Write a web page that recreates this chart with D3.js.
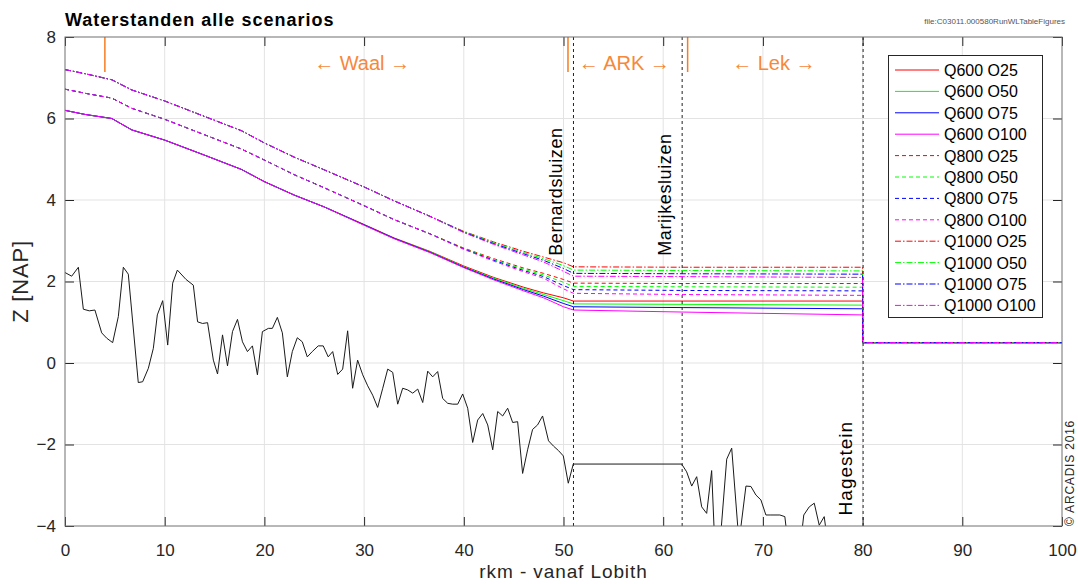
<!DOCTYPE html>
<html><head><meta charset="utf-8">
<script src="https://cdn.jsdelivr.net/npm/d3@7"></script>
<style>
body{margin:0;background:#fff;}
svg{display:block;font-family:"Liberation Sans",Arial,sans-serif;}
</style></head>
<body><svg id="c" width="1078" height="584"></svg>
<script>
// ---------- data ----------
const xTicks = [0,10,20,30,40,50,60,70,80,90,100];
const yTicks = [-4,-2,0,2,4,6,8];
const seriesNames = ["Q600 O25","Q600 O50","Q600 O75","Q600 O100","Q800 O25","Q800 O50","Q800 O75","Q800 O100","Q1000 O25","Q1000 O50","Q1000 O75","Q1000 O100"];
const seriesColors = ["#ff0000","#00ff00","#0000ff","#ff00ff","#ff0000","#00ff00","#0000ff","#ff00ff","#ff0000","#00ff00","#0000ff","#ff00ff"];
const kmWL = [0,2,4.7,6.7,10,14,17.7,20,23,26,30,33,36.6,40,43,46,48,50,51,62,80,80,100];
const q600o25  = [6.2,6.1,6.0,5.72,5.47,5.1,4.75,4.45,4.12,3.83,3.40,3.07,2.74,2.38,2.10,1.86,1.72,1.60,1.52,1.52,1.52,0.5,0.5];
const q600o50  = [6.2,6.1,6.0,5.72,5.47,5.1,4.75,4.45,4.12,3.83,3.39,3.06,2.73,2.36,2.08,1.83,1.68,1.53,1.45,1.44,1.42,0.5,0.5];
const q600o75  = [6.2,6.1,6.0,5.72,5.47,5.1,4.75,4.45,4.12,3.83,3.39,3.06,2.72,2.35,2.06,1.80,1.64,1.46,1.38,1.36,1.33,0.5,0.5];
const q600o100 = [6.2,6.1,6.0,5.72,5.47,5.1,4.75,4.45,4.12,3.83,3.38,3.05,2.71,2.34,2.04,1.77,1.60,1.38,1.30,1.25,1.18,0.5,0.5];
const q800o25  = [6.72,6.62,6.5,6.25,5.98,5.6,5.25,4.98,4.62,4.30,3.86,3.52,3.17,2.82,2.56,2.33,2.20,2.05,1.96,1.95,1.95,0.5,0.5];
const q800o50  = [6.72,6.62,6.5,6.25,5.98,5.6,5.25,4.98,4.62,4.30,3.86,3.52,3.17,2.81,2.54,2.30,2.16,1.98,1.88,1.87,1.86,0.5,0.5];
const q800o75  = [6.72,6.62,6.5,6.25,5.98,5.6,5.25,4.98,4.62,4.30,3.86,3.52,3.17,2.80,2.52,2.27,2.12,1.90,1.80,1.78,1.77,0.5,0.5];
const q800o100 = [6.72,6.62,6.5,6.25,5.98,5.6,5.25,4.98,4.62,4.30,3.86,3.52,3.17,2.79,2.50,2.24,2.08,1.82,1.71,1.68,1.66,0.5,0.5];
const q1000o25 = [7.2,7.1,6.95,6.7,6.43,6.05,5.7,5.4,5.05,4.74,4.32,3.98,3.60,3.23,2.97,2.74,2.60,2.46,2.36,2.35,2.35,0.5,0.5];
const q1000o50 = [7.2,7.1,6.95,6.7,6.43,6.05,5.7,5.4,5.05,4.74,4.32,3.98,3.60,3.22,2.95,2.71,2.56,2.39,2.28,2.27,2.26,0.5,0.5];
const q1000o75 = [7.2,7.1,6.95,6.7,6.43,6.05,5.7,5.4,5.05,4.74,4.32,3.98,3.60,3.21,2.93,2.68,2.52,2.32,2.20,2.19,2.18,0.5,0.5];
const q1000o100= [7.2,7.1,6.95,6.7,6.43,6.05,5.7,5.4,5.05,4.74,4.32,3.98,3.60,3.20,2.91,2.65,2.48,2.25,2.13,2.12,2.10,0.5,0.5];
const seriesValues = [q600o25,q600o50,q600o75,q600o100,q800o25,q800o50,q800o75,q800o100,q1000o25,q1000o50,q1000o75,q1000o100];
const kmBed = [0,0.67,1.34,1.84,2.44,3.0,3.68,4.18,4.78,5.35,5.85,6.35,7.35,7.79,8.36,8.86,9.26,9.8,10.3,10.8,11.27,12.14,12.87,13.3,13.8,14.3,14.88,15.3,15.8,16.3,16.8,17.3,17.8,18.3,18.8,19.3,19.8,20.4,20.8,21.3,21.8,22.3,22.8,23.3,23.8,24.3,24.8,25.4,25.9,26.4,26.85,27.35,27.85,28.35,28.85,29.35,29.86,30.36,30.86,31.36,31.87,32.37,32.87,33.37,33.87,34.37,34.88,35.38,35.88,36.38,36.88,37.38,37.88,38.39,38.89,39.39,39.89,40.39,40.89,41.39,41.9,42.4,42.9,43.4,43.9,44.4,44.9,45.4,45.9,46.4,46.9,47.4,47.9,48.5,49.0,49.5,49.98,50.48,50.98,61.85,62.35,62.86,63.36,63.86,64.36,64.86,65.35,66.37,66.87,67.6,68.3,68.8,69.3,69.8,70.3,70.8,71.7,72.2,72.6,73.7,74.1,74.65,75.15,75.65,76.15,76.6];
const zBed  = [2.22,2.13,2.35,1.32,1.28,1.30,0.74,0.61,0.50,1.14,2.35,2.18,-0.48,-0.46,-0.13,0.36,1.18,1.53,0.44,1.96,2.28,2.05,1.91,1.01,0.97,0.99,0.07,-0.27,0.69,-0.07,0.77,1.07,0.52,0.28,0.42,-0.29,0.77,0.85,0.85,1.12,0.74,-0.34,0.28,0.62,0.52,0.15,0.28,0.42,0.42,0.15,0.28,-0.28,-0.15,0.79,-0.62,0.07,-0.29,-0.56,-0.79,-1.09,-0.62,-0.15,-0.23,-1.01,-0.62,-0.66,-0.74,-0.64,-0.97,-0.20,-0.34,-0.21,-0.87,-0.99,-1.01,-1.01,-0.76,-1.11,-1.95,-1.40,-1.24,-1.52,-2.13,-1.19,-1.30,-1.11,-1.46,-1.44,-2.71,-2.13,-1.63,-1.52,-1.30,-1.91,-2.04,-2.15,-2.28,-2.95,-2.48,-2.48,-2.67,-3.02,-2.79,-3.53,-3.69,-2.64,-5.5,-2.36,-2.09,-4.4,-3.02,-3.03,-3.24,-3.36,-3.73,-3.73,-3.73,-3.77,-4.6,-4.6,-3.73,-3.53,-3.44,-3.98,-3.77,-4.6];
const branchKm = [4, 50.45, 62.45];
const branchLabels = ["\u2190 Waal \u2192","\u2190 ARK \u2192","\u2190 Lek \u2192"];
const branchLabelKm = [29.8, 56.1, 71.1];
const structKm = [51, 61.9, 80.05];
const structLabels = ["Bernardsluizen","Marijkesluizen","Hagestein"];

// ---------- drawing ----------
const svg = d3.select("#c");
const L=65, R=1062, T=37, B=526;
const x = d3.scaleLinear().domain([0,100]).range([L,R]);
const y = d3.scaleLinear().domain([-4,8]).range([B,T]);

svg.append("defs").append("clipPath").attr("id","clip")
  .append("rect").attr("x",L).attr("y",T).attr("width",R-L).attr("height",B-T);

// grid
const grid = svg.append("g").attr("stroke","#e3e3e3").attr("stroke-width",1);
xTicks.slice(1,-1).forEach(t=>grid.append("line").attr("x1",x(t)).attr("x2",x(t)).attr("y1",T).attr("y2",B));
yTicks.slice(1,-1).forEach(t=>grid.append("line").attr("x1",L).attr("x2",R).attr("y1",y(t)).attr("y2",y(t)));

const plot = svg.append("g").attr("clip-path","url(#clip)");

// bed
const lineGen = d3.line().x(d=>x(d[0])).y(d=>y(d[1]));
plot.append("path").datum(kmBed.map((k,i)=>[k,zBed[i]]))
  .attr("d",lineGen).attr("fill","none").attr("stroke","#1a1a1a").attr("stroke-width",1);

// water level series
const dashFor = i => i<4 ? null : (i<8 ? "4,3" : "6,2,1.5,2");
seriesValues.forEach((vals,i)=>{
  plot.append("path").datum(kmWL.map((k,j)=>[k,vals[j]]))
    .attr("d",lineGen).attr("fill","none").attr("stroke",seriesColors[i])
    .attr("stroke-width",1).attr("stroke-dasharray",dashFor(i));
});

// structure dashed lines
structKm.forEach(k=>{
  svg.append("line").attr("x1",x(k)).attr("x2",x(k)).attr("y1",T).attr("y2",B)
    .attr("stroke","#222").attr("stroke-width",1).attr("stroke-dasharray","3,3");
});
structLabels.forEach((s,i)=>{
  const yy = i<2 ? y(2.63) : y(-3.74);
  svg.append("text").attr("transform",`translate(${x(structKm[i])-11},${yy}) rotate(-90)`)
    .attr("font-size",i<2?18:19).attr("letter-spacing",i<2?0.6:1).attr("fill","#000").text(s);
});

// branch markers
branchKm.forEach(k=>{
  svg.append("line").attr("x1",x(k)).attr("x2",x(k)).attr("y1",T).attr("y2",T+35)
    .attr("stroke","#f57c20").attr("stroke-width",1.5);
});
branchLabels.forEach((s,i)=>{
  svg.append("text").attr("x",x(branchLabelKm[i])).attr("y",T+33).attr("text-anchor","middle")
    .attr("font-size",20).attr("fill","#f7883b").text(s);
});

// axes
const axB = svg.append("g").attr("transform",`translate(0,${B})`)
  .call(d3.axisBottom(x).tickValues(xTicks).tickSizeInner(-9).tickSizeOuter(0).tickPadding(18));
const axL = svg.append("g").attr("transform",`translate(${L},0)`)
  .call(d3.axisLeft(y).tickValues(yTicks).tickSizeInner(-9).tickSizeOuter(0).tickPadding(9));
const axT = svg.append("g").attr("transform",`translate(0,${T})`)
  .call(d3.axisTop(x).tickValues(xTicks).tickSizeInner(-9).tickSizeOuter(0).tickFormat(""));
const axR = svg.append("g").attr("transform",`translate(${R},0)`)
  .call(d3.axisRight(y).tickValues(yTicks).tickSizeInner(-9).tickSizeOuter(0).tickFormat(""));
[axB,axL,axT,axR].forEach(a=>{
  a.select(".domain").remove();
  a.selectAll("line").attr("stroke","#262626");
  a.selectAll("text").attr("font-size",17).attr("fill","#262626")
    .attr("font-family","'Liberation Sans',Arial,sans-serif");
});
svg.append("rect").attr("x",L).attr("y",T).attr("width",R-L).attr("height",B-T)
  .attr("fill","none").attr("stroke","#707070").attr("stroke-width",1);

// legend
const lg = svg.append("g");
lg.append("rect").attr("x",888.5).attr("y",55.5).attr("width",154).attr("height",262)
  .attr("fill","#fff").attr("stroke","#262626").attr("stroke-width",1);
seriesNames.forEach((n,i)=>{
  const yy = 70 + i*21.4;
  lg.append("line").attr("x1",895).attr("x2",939).attr("y1",yy).attr("y2",yy)
    .attr("stroke",seriesColors[i]).attr("stroke-width",1).attr("stroke-dasharray",dashFor(i));
  lg.append("text").attr("x",944).attr("y",yy+6).attr("font-size",16).attr("fill","#000").text(n);
});

// titles and labels
svg.append("text").attr("x",65).attr("y",26).attr("font-size",18).attr("font-weight","bold")
  .attr("letter-spacing",1).attr("fill","#000").text("Waterstanden alle scenarios");
svg.append("text").attr("x",1065).attr("y",24).attr("text-anchor","end").attr("font-size",8)
  .attr("fill","#555").text("file:C03011.000580RunWLTableFigures");
svg.append("text").attr("x",(L+R)/2).attr("y",578).attr("text-anchor","middle").attr("font-size",19)
  .attr("letter-spacing",0.9).attr("fill","#262626").text("rkm - vanaf Lobith");
svg.append("text").attr("transform",`translate(28,${(T+B)/2}) rotate(-90)`).attr("text-anchor","middle")
  .attr("font-size",22).attr("letter-spacing",0.8).attr("fill","#262626").text("Z [NAP]");
svg.append("text").attr("transform",`translate(1074,${B}) rotate(-90)`).attr("font-size",12)
  .attr("letter-spacing",0.8).attr("fill","#262626").text("\u00a9 ARCADIS 2016");
</script></body></html>
